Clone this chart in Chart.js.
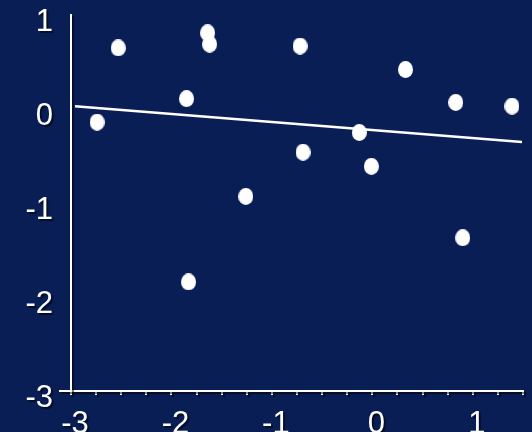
<!DOCTYPE html>
<html>
<head>
<meta charset="utf-8">
<script src="https://cdn.jsdelivr.net/npm/chart.js@4/dist/chart.umd.min.js"></script>
<style>
  html, body { margin: 0; padding: 0; background: #0a1e56; }
  canvas { display: block; }
</style>
</head>
<body>
<canvas id="chart" width="532" height="432"></canvas>
<script>
/* === DATA === */
const pointX = [-2.74, -2.53, -1.85, -1.64, -1.62, -1.83, -1.26, -0.72, -0.69, -0.13, -0.01, 0.33, 0.83, 0.90, 1.39];
const pointY = [-0.14, 0.65, 0.11, 0.81, 0.69, -1.84, -0.93, 0.67, -0.46, -0.25, -0.61, 0.42, 0.07, -1.37, 0.03];

const fitX = [-2.96, 1.49];
const fitY = [0.03, -0.35];

const xTicks = [-3, -2, -1, 0, 1];
const yTicks = [-3, -2, -1, 0, 1];

/* === STYLE === */
const BG = "#0a1e56";
const WHITE = "#ffffff";
const FONT = "'Liberation Sans', Arial, sans-serif";

// points are slightly taller than wide in the original
function ellipse(w, h) {
  const c = document.createElement("canvas");
  c.width = w;
  c.height = h;
  const g = c.getContext("2d");
  g.fillStyle = WHITE;
  g.beginPath();
  g.ellipse(w / 2, h / 2, w / 2, h / 2, 0, 0, Math.PI * 2);
  g.fill();
  return c;
}

// background fill + soft dark shadow under the axis text, off again for the data
const background = {
  id: "background",
  beforeDraw(chart) {
    const ctx = chart.ctx;
    ctx.save();
    ctx.fillStyle = BG;
    ctx.fillRect(0, 0, chart.width, chart.height);
    ctx.restore();
    ctx.save();
    ctx.shadowColor = "rgba(0,0,0,0.55)";
    ctx.shadowOffsetX = 2;
    ctx.shadowOffsetY = 2;
    ctx.shadowBlur = 1;
  },
  beforeDatasetsDraw(chart) {
    chart.ctx.restore();
  }
};

const scatterData = pointX.map((x, i) => ({ x, y: pointY[i] }));
const lineData = fitX.map((x, i) => ({ x, y: fitY[i] }));

new Chart(document.getElementById("chart"), {
  type: "scatter",
  data: {
    datasets: [
      {
        type: "line",
        data: lineData,
        borderColor: WHITE,
        borderWidth: 2.5,
        pointRadius: 0,
        fill: false,
        clip: false
      },
      {
        data: scatterData,
        pointStyle: ellipse(15, 17),
        pointRadius: 8,
        backgroundColor: WHITE,
        borderColor: WHITE,
        clip: false
      }
    ]
  },
  options: {
    responsive: false,
    devicePixelRatio: 1,
    animation: false,
    layout: { padding: { top: 15, right: 2, left: 0, bottom: 0 } },
    plugins: { legend: { display: false }, tooltip: { enabled: false } },
    scales: {
      x: {
        type: "linear",
        min: -3,
        max: 1.5,
        afterBuildTicks(s) {
          const t = [];
          for (let v = -3; v <= 1.5001; v += 0.25) t.push({ value: Math.round(v * 100) / 100 });
          s.ticks = t;
        },
        afterFit(s) {
          s.height = 41;
          s.paddingLeft = 0;
          s.paddingRight = 0;
        },
        ticks: {
          autoSkip: false,
          maxRotation: 0,
          minRotation: 0,
          padding: 11,
          labelOffset: 4,
          color: WHITE,
          font: { family: FONT, size: 31 },
          callback: v => (xTicks.includes(v) ? String(v) : "")
        },
        grid: {
          drawOnChartArea: false,
          drawTicks: true,
          tickLength: 4,
          color: WHITE,
          lineWidth: 2
        },
        border: { color: WHITE, width: 2 }
      },
      y: {
        type: "linear",
        min: -3,
        max: 1,
        afterBuildTicks(s) {
          s.ticks = yTicks.map(v => ({ value: v }));
        },
        afterFit(s) {
          s.width = 71;
          s.paddingTop = 0;
          s.paddingBottom = 0;
        },
        ticks: {
          padding: 6,
          labelOffset: 7,
          color: WHITE,
          font: { family: FONT, size: 31 },
          callback: v => String(v)
        },
        grid: {
          drawOnChartArea: false,
          drawTicks: true,
          tickLength: 12,
          lineWidth: 2,
          // only the bottom tick continues the x axis to the left
          color: c => (c.tick && c.tick.value === -3 ? WHITE : "rgba(0,0,0,0)")
        },
        border: { color: WHITE, width: 2 }
      }
    }
  },
  plugins: [background]
});
</script>
</body>
</html>
